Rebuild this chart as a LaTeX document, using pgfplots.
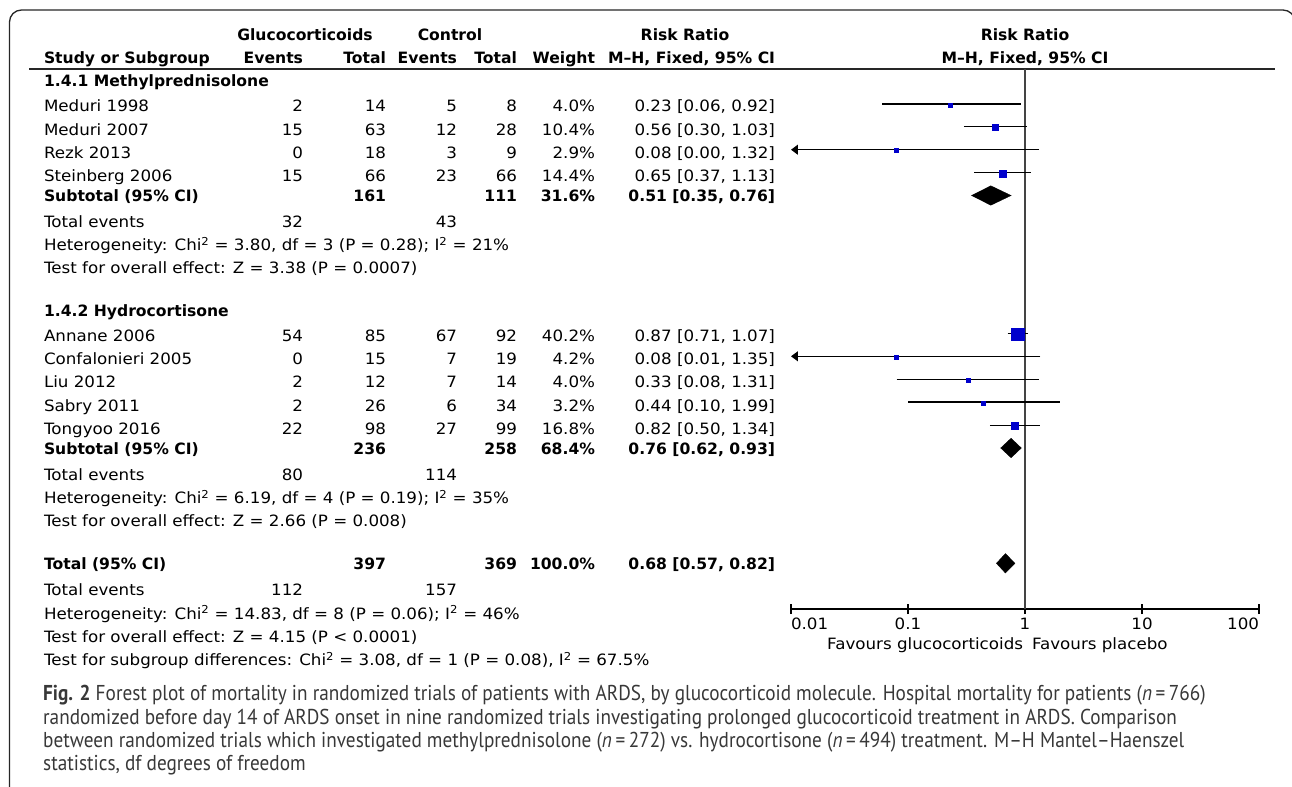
\documentclass[border=0pt]{standalone}
\usepackage{pgfplots}
\pgfplotsset{compat=1.18}
\usepackage{fontspec}
\setmainfont{DejaVu Sans}[FakeStretch=1.07, BoldFeatures={FakeStretch=1.0}]
\newfontfamily\capfont{PT Sans}[FakeStretch=0.895]
\usetikzlibrary{arrows.meta}
\definecolor{rrblue}{RGB}{0,0,204}
\definecolor{vline}{RGB}{68,68,68}
\newcommand\TL[3]{\node[anchor=base west] at (#1,#2) {#3};}
\newcommand\TR[3]{\node[anchor=base east] at (#1,#2) {#3};}
\newcommand\TC[3]{\node[anchor=base] at (#1,#2) {#3};}
% one study row of the table: y, name, ev1, tot1, ev2, tot2, weight, rr
\newcommand\TabRow[8]{\TL{44}{#1}{#2}\TR{303}{#1}{#3}\TR{386}{#1}{#4}\TR{457}{#1}{#5}\TR{517}{#1}{#6}\TR{595}{#1}{#7}\TR{775}{#1}{#8}}
% forest: y, est, lo, hi, half size
\newcommand\Study[5]{%
  \addplot[black, line width=1.3pt] coordinates {(#3,#1) (#4,#1)};
  \addplot[only marks, mark=square*, mark size=#5pt, mark options={draw=rrblue, fill=rrblue}] coordinates {(#2,#1-0.8)};
}
\newcommand\StudyArrow[5]{%
  \addplot[black, line width=1.3pt, -{Triangle[length=7pt,width=10pt]}] coordinates {(#4,#1) (#3,#1)};
  \addplot[only marks, mark=square*, mark size=#5pt, mark options={draw=rrblue, fill=rrblue}] coordinates {(#2,#1-0.8)};
}
\newcommand\Pooled[4]{%
  \addplot[draw=black, fill=black] coordinates {(#3,#1) (#2,#1+9.7) (#4,#1) (#2,#1-9.7)} -- cycle;
}
\begin{document}
\begin{tikzpicture}[x=1bp, y=-1bp, every node/.style={inner sep=0pt, outer sep=0pt, font=\fontsize{15.6bp}{18bp}\selectfont}]
\useasboundingbox (0,0) rectangle (1292,787);
% frame
\draw[line width=1.3bp, rounded corners=12bp, black!85] (9.5,800) -- (9.5,10) -- (1295,10) -- (1295,800);
% header rule
\draw[line width=1.4bp, black!85] (29,69) -- (1275,69);
% header
\TC{305}{41}{\bfseries Glucocorticoids}
\TC{450}{41}{\bfseries Control}
\TC{685}{41}{\bfseries Risk Ratio}
\TC{1025}{41}{\bfseries Risk Ratio}
\TL{44}{64}{\bfseries Study or Subgroup}
\TR{303}{64}{\bfseries Events}
\TR{386}{64}{\bfseries Total}
\TR{457}{64}{\bfseries Events}
\TR{517}{64}{\bfseries Total}
\TR{595}{64}{\bfseries Weight}
\TR{775}{64}{\bfseries M–H, Fixed, 95\% CI}
\TC{1025}{64}{\bfseries M–H, Fixed, 95\% CI}
% group 1
\TL{44}{87}{\bfseries 1.4.1 Methylprednisolone}
\TabRow{112}{Meduri 1998}{2}{14}{5}{8}{4.0\%}{0.23 [0.06, 0.92]}
\TabRow{135.3}{Meduri 2007}{15}{63}{12}{28}{10.4\%}{0.56 [0.30, 1.03]}
\TabRow{158.6}{Rezk 2013}{0}{18}{3}{9}{2.9\%}{0.08 [0.00, 1.32]}
\TabRow{181.9}{Steinberg 2006}{15}{66}{23}{66}{14.4\%}{0.65 [0.37, 1.13]}
\TabRow{201}{\bfseries Subtotal (95\% CI)}{}{\bfseries 161}{}{\bfseries 111}{\bfseries 31.6\%}{\bfseries 0.51 [0.35, 0.76]}
\TabRow{227}{Total events}{32}{}{43}{}{}{}
\TL{44}{250.3}{Heterogeneity: Chi\textsuperscript{2} = 3.80, df = 3 (P = 0.28); I\textsuperscript{2} = 21\%}
\TL{44}{273.6}{Test for overall effect: Z = 3.38 (P = 0.0007)}
% group 2
\TL{44}{316}{\bfseries 1.4.2 Hydrocortisone}
\TabRow{341}{Annane 2006}{54}{85}{67}{92}{40.2\%}{0.87 [0.71, 1.07]}
\TabRow{364.3}{Confalonieri 2005}{0}{15}{7}{19}{4.2\%}{0.08 [0.01, 1.35]}
\TabRow{387.6}{Liu 2012}{2}{12}{7}{14}{4.0\%}{0.33 [0.08, 1.31]}
\TabRow{411}{Sabry 2011}{2}{26}{6}{34}{3.2\%}{0.44 [0.10, 1.99]}
\TabRow{434.3}{Tongyoo 2016}{22}{98}{27}{99}{16.8\%}{0.82 [0.50, 1.34]}
\TabRow{454}{\bfseries Subtotal (95\% CI)}{}{\bfseries 236}{}{\bfseries 258}{\bfseries 68.4\%}{\bfseries 0.76 [0.62, 0.93]}
\TabRow{480}{Total events}{80}{}{114}{}{}{}
\TL{44}{503.3}{Heterogeneity: Chi\textsuperscript{2} = 6.19, df = 4 (P = 0.19); I\textsuperscript{2} = 35\%}
\TL{44}{526.6}{Test for overall effect: Z = 2.66 (P = 0.008)}
% total
\TabRow{569}{\bfseries Total (95\% CI)}{}{\bfseries 397}{}{\bfseries 369}{\bfseries 100.0\%}{\bfseries 0.68 [0.57, 0.82]}
\TabRow{595.7}{Total events}{112}{}{157}{}{}{}
\TL{44}{619}{Heterogeneity: Chi\textsuperscript{2} = 14.83, df = 8 (P = 0.06); I\textsuperscript{2} = 46\%}
\TL{44}{642}{Test for overall effect: Z = 4.15 (P < 0.0001)}
\TL{44}{665.5}{Test for subgroup differences: Chi\textsuperscript{2} = 3.08, df = 1 (P = 0.08), I\textsuperscript{2} = 67.5\%}
% forest axis
\begin{axis}[at={(791bp,-609bp)}, anchor=south west, scale only axis,
  width=468bp, height=540bp, xmode=log, xmin=0.01, xmax=100, ymin=-609, ymax=-69,
  axis y line=none, axis x line*=bottom, x axis line style={-, line width=1.3pt, black},
  xtick={0.01,0.1,1,10,100}, xticklabels={}, xminorticks=false,
  xtick align=center, major tick length=10bp, tick style={black, line width=1.3pt},
  clip=false]
\addplot[vline, line width=1.8pt] coordinates {(1,-69) (1,-609)};
\Study{-104}{0.23}{0.06}{0.92}{2.0}
\Study{-126.7}{0.56}{0.30}{1.03}{3.0}
\StudyArrow{-149.7}{0.08}{0.01}{1.32}{2.0}
\Study{-172.5}{0.65}{0.37}{1.13}{3.5}
\Pooled{-195.5}{0.51}{0.35}{0.76}
\Study{-333.3}{0.87}{0.71}{1.07}{6.3}
\StudyArrow{-356.3}{0.08}{0.01}{1.35}{2.0}
\Study{-379.3}{0.33}{0.08}{1.31}{2.0}
\Study{-402}{0.44}{0.10}{1.99}{2.0}
\Study{-425.3}{0.82}{0.50}{1.34}{3.6}
\Pooled{-448}{0.76}{0.62}{0.93}
\Pooled{-563.3}{0.68}{0.57}{0.82}
\end{axis}
% tick labels and direction labels
\TL{791}{629.3}{0.01}
\TC{908}{629.3}{0.1}
\TC{1025}{629.3}{1}
\TC{1142}{629.3}{10}
\TR{1259}{629.3}{100}
\TR{1023}{649.3}{Favours glucocorticoids}
\TL{1032}{649.3}{Favours placebo}
% caption
\begin{scope}[every node/.style={inner sep=0pt, font=\capfont\fontsize{21.5bp}{24bp}\selectfont, text=black!78}]
\TL{43}{700.5}{\textbf{Fig. 2} Forest plot of mortality in randomized trials of patients with ARDS, by glucocorticoid molecule. Hospital mortality for patients ({\itshape n}\,=\,766)}
\TL{43}{724.3}{randomized before day 14 of ARDS onset in nine randomized trials investigating prolonged glucocorticoid treatment in ARDS. Comparison}
\TL{43}{747}{between randomized trials which investigated methylprednisolone ({\itshape n}\,=\,272) vs. hydrocortisone ({\itshape n}\,=\,494) treatment. M–H Mantel–Haenszel}
\TL{43}{770.5}{statistics, df degrees of freedom}
\end{scope}
\end{tikzpicture}
\end{document}
